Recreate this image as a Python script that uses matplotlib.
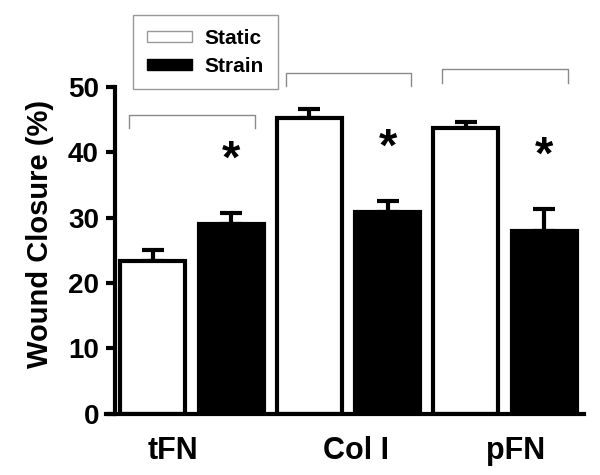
import numpy as np
import matplotlib
matplotlib.use("Agg")
import matplotlib.pyplot as plt
from matplotlib.patches import Patch

plt.rcParams['font.family'] = ['Liberation Sans', 'DejaVu Sans']
plt.rcParams['font.weight'] = 'bold'

# Wound closure values
categories = ['tFN', 'Col I', 'pFN']
static = [23.3, 45.2, 43.8]
static_err = [1.7, 1.5, 0.9]
strain = [29.0, 30.8, 28.0]
strain_err = [1.7, 1.8, 3.4]

# bracket heights above each group (annotation)
bracket_top = [45.8, 52.2, 52.8]

n = len(categories)
x_static = np.arange(n) * 2
x_strain = x_static + 1
width = 0.83

fig = plt.figure(figsize=(6, 4.75), dpi=100)
ax = fig.add_axes([106/600, 61.5/475, 478/600, 359/475])

ax.bar(x_static, static, width, color='white', edgecolor='black', linewidth=3,
       zorder=2)
ax.bar(x_strain, strain, width, color='black', edgecolor='black', linewidth=3,
       zorder=2)
ax.errorbar(x_static, static, yerr=[np.zeros(n), static_err], fmt='none',
            ecolor='black', elinewidth=3, capsize=8, capthick=3, zorder=1)
ax.errorbar(x_strain, strain, yerr=[np.zeros(n), strain_err], fmt='none',
            ecolor='black', elinewidth=3, capsize=8, capthick=3, zorder=1)

# significance stars and brackets
for i in range(n):
    ax.text(x_strain[i], strain[i] + strain_err[i] + 8.0, '*', ha='center',
            va='center', fontsize=34, fontweight='bold')
    left = x_static[i] - 0.3
    right = x_strain[i] + 0.3
    top = bracket_top[i]
    ax.plot([left, left, right, right], [top - 2.1, top, top, top - 2.1],
            color='#8a8a8a', linewidth=1, clip_on=False)

ax.set_xlim(-0.60, 5.51)
ax.set_ylim(0, 55)
ax.set_yticks([0, 10, 20, 30, 40, 50])
ax.set_xticks([0.26, 2.6, 4.64])
ax.set_xticklabels(categories, fontsize=22, fontweight='bold')
ax.tick_params(axis='x', length=0, pad=16)
ax.tick_params(axis='y', labelsize=20, width=3, length=6.5, pad=5)
for lab in ax.get_yticklabels():
    lab.set_fontweight('bold')

ax.spines['top'].set_visible(False)
ax.spines['right'].set_visible(False)
ax.spines['left'].set_position(('data', -0.486))
ax.spines['left'].set_bounds(0, 50)
ax.spines['left'].set_linewidth(3)
ax.spines['bottom'].set_linewidth(3)

ax.set_ylabel('Wound Closure (%)', fontsize=21, fontweight='bold', labelpad=10)

handles = [Patch(facecolor='white', edgecolor='#999999', linewidth=1, label='Static'),
           Patch(facecolor='black', edgecolor='black', label='Strain')]
leg = fig.legend(handles=handles, loc='upper left',
                 bbox_to_anchor=(133/600, 1 - 15/475), fontsize=15,
                 frameon=True, fancybox=False, edgecolor='#808080',
                 handlelength=2.2, handleheight=0.45, handletextpad=0.6,
                 borderaxespad=0, borderpad=0.65, labelspacing=0.45)
leg.get_frame().set_linewidth(1)
for t in leg.get_texts():
    t.set_fontweight('bold')

fig.savefig('out.png', dpi=100)
